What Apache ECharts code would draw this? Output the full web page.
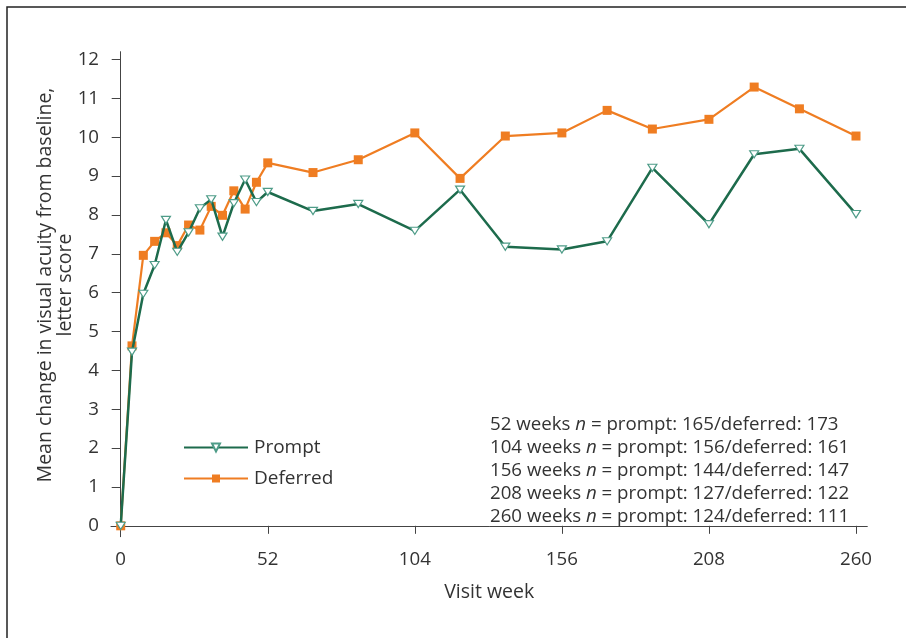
<!DOCTYPE html>
<html>
<head>
<meta charset="utf-8">
<script src="https://cdn.jsdelivr.net/npm/echarts@6/dist/echarts.min.js"></script>
<style>html,body{margin:0;padding:0;background:#fff}#c{width:906px;height:638px}</style>
</head>
<body>
<div id="c"></div>
<script>
const weeks = [0,4,8,12,16,20,24,28,32,36,40,44,48,52,68,84,104,120,136,156,172,188,208,224,240,260];
const prompt = [0,4.48,5.97,6.71,7.87,7.05,7.55,8.17,8.40,7.44,8.30,8.91,8.33,8.59,8.10,8.28,7.59,8.65,7.18,7.11,7.32,9.21,7.76,9.56,9.70,8.02];
const deferred = [0,4.63,6.96,7.32,7.54,7.21,7.74,7.61,8.22,7.99,8.62,8.15,8.84,9.34,9.09,9.42,10.11,8.94,10.03,10.11,10.69,10.21,10.46,11.29,10.73,10.03];
const xTicks = [0,52,104,156,208,260];
const yTicks = [0,1,2,3,4,5,6,7,8,9,10,11,12];
const seriesNames = ['Prompt','Deferred'];
const nLines = [
  ['52','165','173'],
  ['104','156','161'],
  ['156','144','147'],
  ['208','127','122'],
  ['260','124','111']
];

const FONT = 'Open Sans';
const chart = echarts.init(document.getElementById('c'), null, {renderer:'canvas'});
const tri = 'path://M0,0 L10,0 L5,9 Z';

const graphics = [
  {type:'rect', shape:{x:7,y:7,width:920,height:660}, style:{fill:'none', stroke:'#222', lineWidth:1.5}, silent:true},
  {type:'text', x:45, y:285, rotation:Math.PI/2, style:{text:'Mean change in visual acuity from baseline,', font:'19.5px "'+FONT+'"', fill:'#333', align:'center', verticalAlign:'middle'}},
  {type:'text', x:65, y:285, rotation:Math.PI/2, style:{text:'letter score', font:'19.5px "'+FONT+'"', fill:'#333', align:'center', verticalAlign:'middle'}}
];
nLines.forEach((r,i)=>{
  graphics.push({type:'text', x:490, y:425 + i*22.8, style:{
    text:'{a|'+r[0]+' weeks }{i|n}{a| = prompt: '+r[1]+'/deferred: '+r[2]+'}',
    verticalAlign:'middle', align:'left',
    rich:{
      a:{fontFamily:FONT, fontSize:18.7, fill:'#333'},
      i:{fontFamily:FONT, fontSize:18.7, fontStyle:'italic', fill:'#333'}
    }
  }});
});

chart.setOption({
  animation:false,
  backgroundColor:'#fff',
  grid:{left:111, right:38.7, top:51.7, bottom:101.3, containLabel:false},
  xAxis:{
    type:'value', min:-3.43, max:264,
    name:'Visit week', nameLocation:'middle', nameGap:46,
    nameTextStyle:{fontFamily:FONT, fontSize:19.5, color:'#333'},
    axisLine:{show:true, lineStyle:{color:'#444', width:1}},
    axisTick:{show:true, length:8, lineStyle:{color:'#444'}, customValues:xTicks},
    axisLabel:{fontFamily:FONT, fontSize:18.7, color:'#333', margin:13, customValues:xTicks},
    splitLine:{show:false}
  },
  yAxis:{
    type:'value', min:-0.28, max:12.2,
    axisLine:{show:true, lineStyle:{color:'#444', width:1}},
    axisTick:{show:true, length:9, lineStyle:{color:'#444'}, customValues:yTicks},
    axisLabel:{fontFamily:FONT, fontSize:18.7, color:'#333', margin:12, customValues:yTicks},
    splitLine:{show:false}
  },
  legend:{
    orient:'vertical', left:183, top:438, padding:0, itemWidth:64, itemHeight:10, itemGap:12,
    textStyle:{fontFamily:FONT, fontSize:19, color:'#333', padding:[0,0,0,1]},
    data:seriesNames
  },
  series:[
    {
      name:seriesNames[0], type:'line',
      data:weeks.map((w,i)=>[w,prompt[i]]),
      symbol:tri, symbolSize:[9,8], symbolKeepAspect:true,
      itemStyle:{color:'#fff', borderColor:'#4e9c88', borderWidth:1.2},
      lineStyle:{color:'#1d6b4c', width:2.5},
      z:3
    },
    {
      name:seriesNames[1], type:'line',
      data:weeks.map((w,i)=>[w,deferred[i]]),
      symbol:'rect', symbolSize:9,
      itemStyle:{color:'#ef7d22', borderColor:'#ef7d22', borderWidth:0},
      lineStyle:{color:'#ef7d22', width:2.2},
      z:2
    }
  ],
  graphic:graphics
});
</script>
</body>
</html>
